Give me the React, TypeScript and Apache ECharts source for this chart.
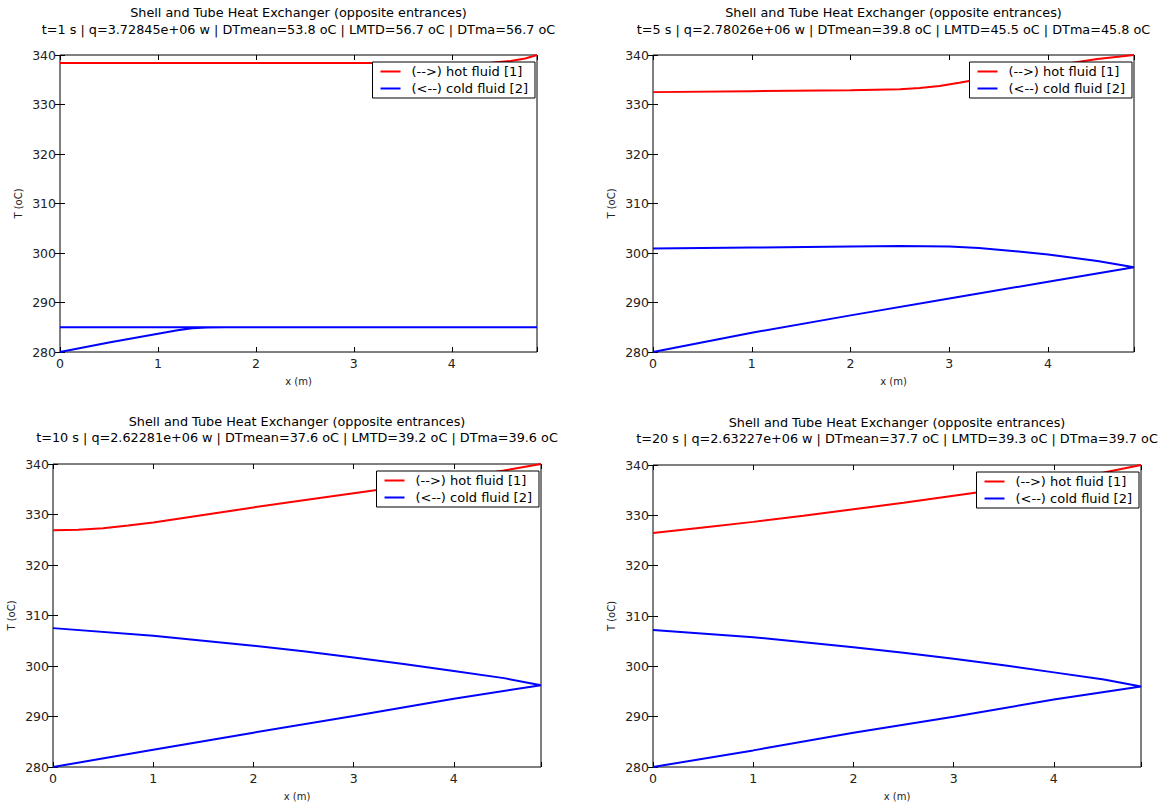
import React, { useEffect, useRef } from "react";
import * as echarts from "echarts";

// ---------- data ----------
const TITLE_1 = "Shell and Tube Heat Exchanger (opposite entrances)";
const SUBTITLES = [
  "t=1 s | q=3.72845e+06 w | DTmean=53.8 oC | LMTD=56.7 oC | DTma=56.7 oC",
  "t=5 s | q=2.78026e+06 w | DTmean=39.8 oC | LMTD=45.5 oC | DTma=45.8 oC",
  "t=10 s | q=2.62281e+06 w | DTmean=37.6 oC | LMTD=39.2 oC | DTma=39.6 oC",
  "t=20 s | q=2.63227e+06 w | DTmean=37.7 oC | LMTD=39.3 oC | DTma=39.7 oC",
];
const HOT_NAME = "(-->) hot fluid [1]";
const COLD_NAME = "(<--) cold fluid [2]";
const X_TICKS = [0, 1, 2, 3, 4];
const Y_TICKS = [280, 290, 300, 310, 320, 330, 340];
const X_MAX = 4.87;

// panel 1 (t=1 s)
const hot1X = [0, 1, 2, 3, 4, 4.4, 4.6, 4.75, 4.87];
const hot1T = [338.4, 338.4, 338.4, 338.4, 338.4, 338.45, 338.8, 339.3, 340];
const cold1X = [0, 0.5, 1, 1.2, 1.35, 1.5, 1.7, 2, 3, 4, 4.87, 3, 0];
const cold1T = [280, 281.9, 283.7, 284.4, 284.8, 284.95, 285, 285, 285, 285, 285, 285, 285];

// panel 2 (t=5 s)
const hot2X = [0, 1, 2, 2.5, 2.7, 2.9, 3.1, 3.3, 3.6, 4.0, 4.5, 4.87];
const hot2T = [332.5, 332.7, 332.9, 333.1, 333.35, 333.75, 334.4, 335.1, 336.2, 337.7, 339.2, 340];
const cold2X = [0, 1, 2, 3, 4, 4.87, 4.5, 4, 3.7, 3.3, 3, 2.5, 2, 1, 0];
const cold2T = [280, 283.9, 287.4, 290.8, 294.2, 297.1, 298.4, 299.7, 300.3, 301.0, 301.3, 301.4, 301.3, 301.1, 300.9];

// panel 3 (t=10 s)
const hot3X = [0, 0.25, 0.5, 0.75, 1, 1.5, 2, 2.5, 3, 3.5, 4, 4.5, 4.87];
const hot3T = [326.9, 327.0, 327.3, 327.8, 328.4, 329.9, 331.4, 332.8, 334.2, 335.6, 337.1, 338.7, 340];
const cold3X = [0, 1, 2, 3, 4, 4.87, 4.5, 4, 3.5, 3, 2.5, 2, 1, 0];
const cold3T = [280, 283.4, 286.8, 290.1, 293.5, 296.2, 297.6, 299.0, 300.4, 301.7, 302.9, 304.0, 306.0, 307.5];

// panel 4 (t=20 s)
const hot4X = [0, 0.5, 1, 1.5, 2, 2.5, 3, 3.5, 4, 4.5, 4.87];
const hot4T = [326.5, 327.6, 328.7, 329.9, 331.2, 332.5, 333.9, 335.3, 336.9, 338.5, 340];
const cold4X = [0, 1, 2, 3, 4, 4.87, 4.5, 4, 3.5, 3, 2.5, 2, 1, 0];
const cold4T = [280, 283.3, 286.8, 290.0, 293.4, 296.0, 297.4, 298.8, 300.2, 301.5, 302.7, 303.8, 305.8, 307.2];

const HOT_X = [hot1X, hot2X, hot3X, hot4X];
const HOT_T = [hot1T, hot2T, hot3T, hot4T];
const COLD_X = [cold1X, cold2X, cold3X, cold4X];
const COLD_T = [cold1T, cold2T, cold3T, cold4T];

// ---------- layout ----------
const W = 1173;
const H = 808;
const GRIDS = [
  { left: 60, top: 55, width: 477, height: 297, t1: 12, t2: 29 },
  { left: 653, top: 55, width: 481, height: 297, t1: 12, t2: 29 },
  { left: 53, top: 464, width: 488, height: 303, t1: 421, t2: 437 },
  { left: 653, top: 465, width: 488, height: 302, t1: 422, t2: 438 },
];
const FONT = "DejaVu Sans";

const pairs = (xs: number[], ys: number[]) => xs.map((x, i) => [x, ys[i]]);

export default function App() {
  const ref = useRef<HTMLDivElement>(null);

  useEffect(() => {
    document.body.style.margin = "0";
    if (!ref.current) return;
    const chart = echarts.init(ref.current, undefined, { renderer: "svg" });

    const grid: any[] = [];
    const xAxis: any[] = [];
    const yAxis: any[] = [];
    const series: any[] = [];
    const legend: any[] = [];
    const graphic: any[] = [];

    const tick = { show: true, inside: true, length: 5, lineStyle: { color: "#000", width: 1 } };

    GRIDS.forEach((g, i) => {
      grid.push({
        left: g.left,
        top: g.top,
        width: g.width,
        height: g.height,
        show: true,
        borderColor: "#000",
        borderWidth: 1,
        backgroundColor: "transparent",
      });
      const xBase = {
        gridIndex: i,
        type: "value",
        min: X_TICKS[0],
        max: X_MAX,
        interval: X_TICKS[1] - X_TICKS[0],
        splitLine: { show: false },
        axisLine: { show: false },
        axisTick: tick,
      };
      xAxis.push({
        ...xBase,
        position: "bottom",
        name: "x (m)",
        nameLocation: "middle",
        nameGap: 24,
        nameTextStyle: { fontFamily: FONT, fontSize: 10, color: "#222" },
        axisLabel: {
          fontFamily: FONT,
          fontSize: 12.5,
          color: "#222",
          margin: 5,
          formatter: (v: number) => (X_TICKS.includes(v) ? String(v) : ""),
        },
      });
      xAxis.push({ ...xBase, position: "top", axisLabel: { show: false } });
      const yBase = {
        gridIndex: i,
        type: "value",
        min: Y_TICKS[0],
        max: Y_TICKS[Y_TICKS.length - 1],
        interval: Y_TICKS[1] - Y_TICKS[0],
        splitLine: { show: false },
        axisLine: { show: false },
        axisTick: tick,
      };
      yAxis.push({
        ...yBase,
        position: "left",
        name: "T (oC)",
        nameLocation: "middle",
        nameGap: 37,
        nameRotate: 90,
        nameTextStyle: { fontFamily: FONT, fontSize: 10, color: "#222" },
        axisLabel: { fontFamily: FONT, fontSize: 12.5, color: "#222", margin: 4 },
      });
      yAxis.push({ ...yBase, position: "right", axisLabel: { show: false } });

      series.push({
        type: "line",
        name: HOT_NAME,
        xAxisIndex: 2 * i,
        yAxisIndex: 2 * i,
        data: pairs(HOT_X[i], HOT_T[i]),
        showSymbol: false,
        symbol: "none",
        lineStyle: { color: "#ff0000", width: 2 },
        itemStyle: { color: "#ff0000" },
        z: 2,
      });
      series.push({
        type: "line",
        name: COLD_NAME,
        xAxisIndex: 2 * i,
        yAxisIndex: 2 * i,
        data: pairs(COLD_X[i], COLD_T[i]),
        showSymbol: false,
        symbol: "none",
        lineStyle: { color: "#0000ff", width: 2 },
        itemStyle: { color: "#0000ff" },
        z: 2,
      });

      legend.push({
        data: [HOT_NAME, COLD_NAME],
        orient: "vertical",
        right: W - (g.left + g.width) + 2,
        top: g.top + 7,
        backgroundColor: "#fff",
        borderColor: "#000",
        borderWidth: 1,
        borderRadius: 0,
        padding: [3, 7, 3, 8],
        itemGap: 4,
        itemWidth: 20,
        itemHeight: 2,
        icon: "rect",
        selectedMode: false,
        textStyle: { fontFamily: FONT, fontSize: 13, color: "#000", padding: [0, 0, 0, 6] },
        z: 10,
      });

      const cx = g.left + g.width / 2;
      graphic.push({
        type: "text",
        x: cx,
        y: g.t1,
        style: {
          text: TITLE_1,
          textAlign: "center",
          textVerticalAlign: "middle",
          font: `12.8px "${FONT}"`,
          fill: "#000",
        },
      });
      graphic.push({
        type: "text",
        x: cx,
        y: g.t2,
        style: {
          text: SUBTITLES[i],
          textAlign: "center",
          textVerticalAlign: "middle",
          font: `12.8px "${FONT}"`,
          fill: "#000",
        },
      });
    });

    chart.setOption({
      animation: false,
      backgroundColor: "#fff",
      textStyle: { fontFamily: FONT },
      grid,
      xAxis,
      yAxis,
      series,
      legend,
      graphic,
    });

    return () => chart.dispose();
  }, []);

  return <div ref={ref} style={{ width: W, height: H }} />;
}
